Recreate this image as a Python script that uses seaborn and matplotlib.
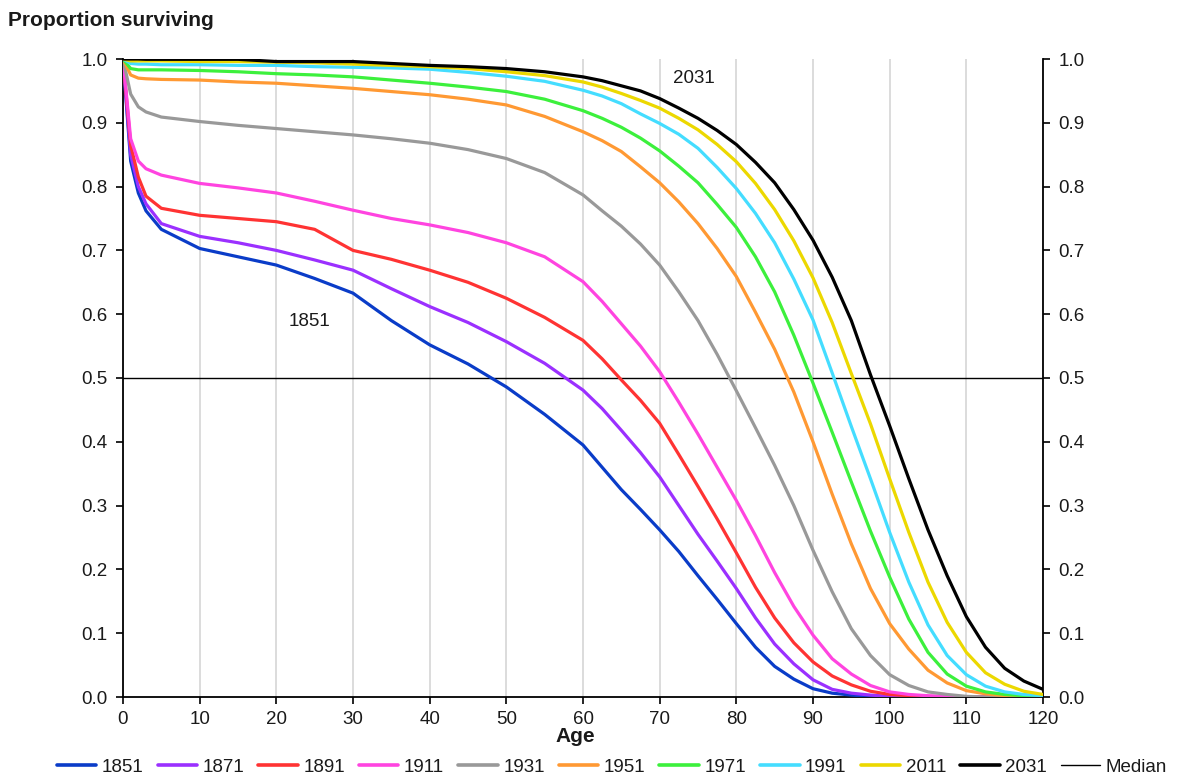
import pandas as pd
import seaborn as sns
import matplotlib.pyplot as plt
from matplotlib.lines import Line2D

ages = [0, 1, 2, 3, 5, 10, 15, 20, 25, 30, 35, 40, 45, 50, 55,
        60, 62.5, 65, 67.5, 70, 72.5, 75, 77.5, 80, 82.5, 85, 87.5, 90, 92.5,
        95, 97.5, 100, 102.5, 105, 107.5, 110, 112.5, 115, 117.5, 120]

years = ['1851', '1871', '1891', '1911', '1931', '1951', '1971', '1991', '2011', '2031']
colors = ['#0a3cc8', '#9b30ff', '#ff3333', '#ff44e0', '#999999',
          '#ff9933', '#3cf03c', '#44ddff', '#ecd800', '#000000']

s1851 = [1.0, 0.84, 0.79, 0.762, 0.733, 0.703, 0.69, 0.677, 0.656, 0.633, 0.59, 0.552, 0.522, 0.486, 0.443,
         0.395, 0.36, 0.325, 0.294, 0.262, 0.228, 0.19, 0.153, 0.115, 0.078, 0.048, 0.028, 0.013, 0.006,
         0.003, 0.001, 0, 0, 0, 0, 0, 0, 0, 0, 0]
s1871 = [1.0, 0.85, 0.80, 0.773, 0.742, 0.722, 0.712, 0.70, 0.685, 0.669, 0.64, 0.612, 0.587, 0.557, 0.523,
         0.481, 0.452, 0.418, 0.383, 0.345, 0.30, 0.255, 0.213, 0.17, 0.124, 0.083, 0.052, 0.027, 0.012,
         0.006, 0.003, 0.001, 0, 0, 0, 0, 0, 0, 0, 0]
s1891 = [1.0, 0.865, 0.815, 0.785, 0.766, 0.755, 0.75, 0.745, 0.733, 0.70, 0.686, 0.669, 0.65, 0.625, 0.595,
         0.559, 0.53, 0.497, 0.465, 0.429, 0.38, 0.33, 0.279, 0.226, 0.172, 0.124, 0.085, 0.055, 0.033,
         0.019, 0.009, 0.004, 0.002, 0.001, 0, 0, 0, 0, 0, 0]
s1911 = [1.0, 0.875, 0.84, 0.828, 0.818, 0.805, 0.798, 0.79, 0.777, 0.763, 0.75, 0.74, 0.728, 0.712, 0.69,
         0.651, 0.62, 0.585, 0.55, 0.51, 0.462, 0.412, 0.36, 0.308, 0.253, 0.195, 0.142, 0.097, 0.06,
         0.036, 0.018, 0.008, 0.004, 0.002, 0.001, 0, 0, 0, 0, 0]
s1931 = [1.0, 0.945, 0.925, 0.917, 0.909, 0.902, 0.896, 0.891, 0.886, 0.881, 0.875, 0.868, 0.858, 0.844, 0.822,
         0.787, 0.762, 0.738, 0.71, 0.677, 0.635, 0.59, 0.537, 0.48, 0.422, 0.363, 0.3, 0.23, 0.165,
         0.107, 0.065, 0.035, 0.018, 0.008, 0.004, 0.001, 0, 0, 0, 0]
s1951 = [1.0, 0.975, 0.97, 0.969, 0.968, 0.967, 0.964, 0.962, 0.958, 0.954, 0.949, 0.944, 0.937, 0.928, 0.91,
         0.886, 0.872, 0.855, 0.831, 0.806, 0.776, 0.742, 0.703, 0.659, 0.603, 0.545, 0.478, 0.40, 0.318,
         0.24, 0.17, 0.115, 0.075, 0.042, 0.022, 0.01, 0.005, 0.002, 0.001, 0.0]
s1971 = [1.0, 0.985, 0.983, 0.983, 0.983, 0.982, 0.98, 0.977, 0.975, 0.972, 0.967, 0.962, 0.956, 0.949, 0.937,
         0.919, 0.907, 0.893, 0.876, 0.856, 0.832, 0.806, 0.772, 0.736, 0.69, 0.635, 0.567, 0.492, 0.415,
         0.337, 0.26, 0.188, 0.122, 0.07, 0.036, 0.017, 0.008, 0.004, 0.002, 0.001]
s1991 = [1.0, 0.993, 0.992, 0.992, 0.991, 0.991, 0.99, 0.99, 0.988, 0.987, 0.986, 0.984, 0.979, 0.973, 0.965,
         0.951, 0.942, 0.93, 0.914, 0.899, 0.882, 0.86, 0.83, 0.797, 0.758, 0.712, 0.655, 0.591, 0.508,
         0.424, 0.342, 0.258, 0.18, 0.113, 0.065, 0.035, 0.017, 0.008, 0.004, 0.002]
s2011 = [1.0, 0.997, 0.997, 0.997, 0.997, 0.996, 0.996, 0.995, 0.994, 0.992, 0.99, 0.988, 0.985, 0.98, 0.974,
         0.964, 0.956, 0.946, 0.935, 0.923, 0.907, 0.889, 0.866, 0.839, 0.805, 0.764, 0.715, 0.657, 0.587,
         0.507, 0.428, 0.342, 0.258, 0.18, 0.117, 0.07, 0.038, 0.02, 0.009, 0.004]
s2031 = [1.0, 1.0, 1.0, 0.9995, 0.9995, 0.9995, 0.9995, 0.996, 0.996, 0.996, 0.993, 0.99, 0.988, 0.985, 0.98,
         0.972, 0.966, 0.958, 0.950, 0.938, 0.923, 0.907, 0.888, 0.866, 0.838, 0.806, 0.764, 0.716, 0.658,
         0.59, 0.505, 0.425, 0.342, 0.262, 0.19, 0.126, 0.078, 0.045, 0.025, 0.012]

series = [s1851, s1871, s1891, s1911, s1931, s1951, s1971, s1991, s2011, s2031]

rows = []
for year, vals in zip(years, series):
    for a, v in zip(ages, vals):
        rows.append({'Age': a, 'Proportion': v, 'Year': year})
df = pd.DataFrame(rows)

sns.set_theme(style='white')
plt.rcParams['font.family'] = ['Liberation Sans', 'DejaVu Sans']
txt = '#1a1a1a'

fig = plt.figure(figsize=(11.85, 7.78), dpi=100)
ax = fig.add_axes([123 / 1185, 1 - 697 / 778, 920 / 1185, 638 / 778])

# median reference line sits under the curves
ax.axhline(0.5, color='black', lw=1.0, zorder=1)
sns.lineplot(data=df, x='Age', y='Proportion', hue='Year', hue_order=years,
             palette=dict(zip(years, colors)), linewidth=2.3, estimator=None,
             legend=False, ax=ax, zorder=3)

ax.set_xlim(0, 120)
ax.set_ylim(0, 1)
ax.set_xticks(range(0, 121, 10))
ax.set_yticks([i / 10 for i in range(11)])
ax.set_yticklabels(['{:.1f}'.format(i / 10) for i in range(11)])
ax.set_axisbelow(True)
ax.grid(axis='x', color='#d9d9d9', lw=1.3)
ax.grid(axis='y', visible=False)

for side in ['left', 'right', 'bottom']:
    ax.spines[side].set_color('black')
    ax.spines[side].set_linewidth(1.3)
ax.spines['top'].set_visible(False)

ax.tick_params(axis='both', direction='out', length=5, width=1.2, color='black',
               labelsize=13.5, labelcolor=txt, bottom=True, left=True, right=True,
               labelright=True)
ax.tick_params(axis='x', pad=5)
ax.tick_params(axis='y', pad=6)

ax.set_ylabel('')
ax.set_xlabel('Age', fontsize=15, fontweight='bold', color=txt)
ax.xaxis.set_label_coords((575 - 123) / 920, -(736 - 697) / 638)
ax.xaxis.label.set_va('center')

ax.text(24.3, 0.589, '1851', fontsize=13.5, color=txt, ha='center', va='center')
ax.text(74.5, 0.970, '2031', fontsize=13.5, color=txt, ha='center', va='center')

fig.text(8 / 1185, 1 - 20 / 778, 'Proportion surviving', fontsize=15,
         fontweight='bold', color=txt, ha='left', va='center')

handles = [Line2D([0], [0], color=c, lw=2.6) for c in colors]
handles.append(Line2D([0], [0], color='black', lw=1.0))
fig.legend(handles, years + ['Median'], loc='center', bbox_to_anchor=(612 / 1185, 1 - 767 / 778),
           ncol=11, frameon=False, fontsize=13.5, handlelength=2.1, handletextpad=0.3,
           columnspacing=0.75, labelcolor=txt)

fig.savefig('out.png', dpi=100)
